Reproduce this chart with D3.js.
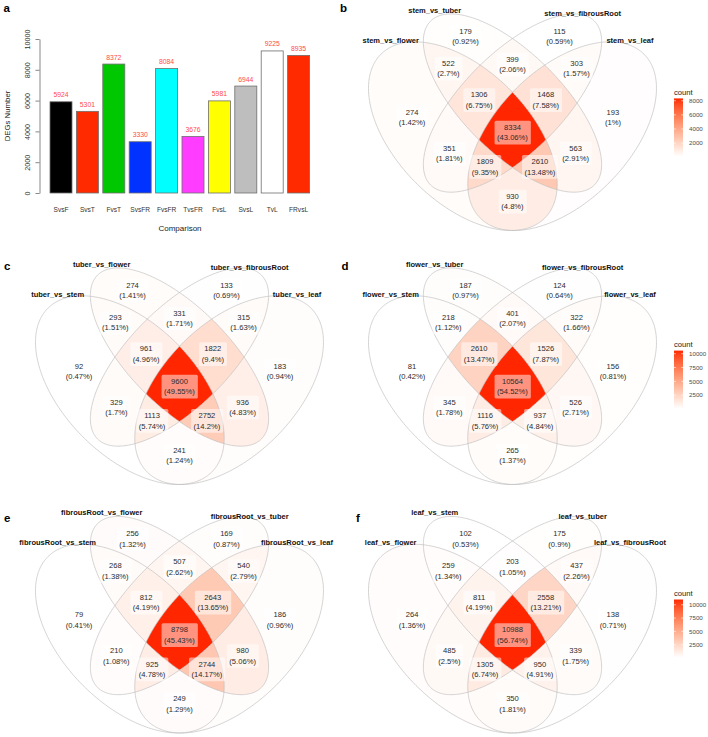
<!DOCTYPE html>
<html><head><meta charset="utf-8">
<script src="https://cdn.jsdelivr.net/npm/d3@7"></script>
<style>
body{margin:0;background:#fff}
text{font-family:"Liberation Sans",Arial,Helvetica,sans-serif}
</style>
</head><body>
<svg id="chart" width="708" height="737"></svg>
<script>
// ---------- DATA ----------
const categories = ["SvsF","SvsT","FvsT","SvsFR","FvsFR","TvsFR","FvsL","SvsL","TvL","FRvsL"];
const degValues  = [5924,5301,8372,3330,8084,3676,5981,6944,9225,8935];
const barColors  = ["#000000","#FF2A00","#00C800","#0033FF","#00FFFF","#FF3CFF","#FFFF00","#BEBEBE","#FFFFFF","#FF2A00"];
const yTicks     = [0,2000,4000,6000,8000,10000];

// region order: A, B, C, D, AB, BC, CD, AC, BD, AD, ABC, BCD, ACD, ABD, ABCD
const regionKeys = ["A","B","C","D","AB","BC","CD","AC","BD","AD","ABC","BCD","ACD","ABD","ABCD"];

const setsB   = ["stem_vs_flower","stem_vs_tuber","stem_vs_fibrousRoot","stem_vs_leaf"];
const countsB = [274,179,115,193,522,399,303,351,563,930,1306,1468,1809,2610,8334];
const setsC   = ["tuber_vs_stem","tuber_vs_flower","tuber_vs_fibrousRoot","tuber_vs_leaf"];
const countsC = [92,274,133,183,293,331,315,329,936,241,961,1822,1113,2752,9600];
const setsD   = ["flower_vs_stem","flower_vs_tuber","flower_vs_fibrousRoot","flower_vs_leaf"];
const countsD = [81,187,124,156,218,401,322,345,526,265,2610,1526,1116,937,10564];
const setsE   = ["fibrousRoot_vs_stem","fibrousRoot_vs_flower","fibrousRoot_vs_tuber","fibrousRoot_vs_leaf"];
const countsE = [79,256,169,186,268,507,540,210,980,249,812,2643,925,2744,8798];
const setsF   = ["leaf_vs_flower","leaf_vs_stem","leaf_vs_tuber","leaf_vs_fibrousRoot"];
const countsF = [264,102,175,138,259,203,437,485,339,350,811,2558,1305,950,10988];

const legendTicksB = [2000,4000,6000,8000];
const legendTicksD = [2500,5000,7500,10000];
const legendTicksF = [2500,5000,7500,10000];

// ---------- LAYOUT ----------
const svg = d3.select("#chart");
const FONT = '"Liberation Sans",Arial,Helvetica,sans-serif';

// panel letters
[["a",6.7,12],["b",343.5,12],["c",7.3,269.5],["d",345,269.5],["e",7.3,522],["f",358,522]].forEach(([t,x,y])=>{
  svg.append("text").attr("x",x).attr("y",y).attr("text-anchor","middle")
    .attr("font-size",11.5).attr("font-weight","bold").attr("fill","#000").text(t);
});

// ---------- BAR CHART (a) ----------
(function(){
  const x = d3.scaleBand().domain(categories).range([47.8,311.8]).paddingInner(4.4/26.4).paddingOuter(2.2/26.4);
  const y = d3.scaleLinear().domain([0,10000]).range([193,39]);
  const g = svg.append("g");
  g.selectAll("rect.bar").data(categories).join("rect")
    .attr("x",d=>x(d)).attr("width",x.bandwidth())
    .attr("y",(d,i)=>y(degValues[i])).attr("height",(d,i)=>y(0)-y(degValues[i]))
    .attr("fill",(d,i)=>barColors[i]).attr("stroke","#6e6e6e").attr("stroke-width",0.8);
  g.selectAll("text.val").data(categories).join("text")
    .attr("x",d=>x(d)+x.bandwidth()/2).attr("y",(d,i)=>y(degValues[i])-4.5)
    .attr("text-anchor","middle").attr("font-size",6.8).attr("fill","#FF4B4B")
    .text((d,i)=>degValues[i]);
  const ax = g.append("g").attr("transform","translate(39.5,0)")
    .call(d3.axisLeft(y).tickValues(yTicks).tickSize(4).tickSizeOuter(0).tickFormat(d3.format("d")));
  ax.select(".domain").attr("stroke","#555").attr("stroke-width",0.7);
  ax.selectAll(".tick line").attr("stroke","#555").attr("stroke-width",0.7);
  ax.selectAll(".tick text").attr("transform","rotate(-90)").attr("x",0).attr("y",-10).attr("dy",null)
    .attr("text-anchor","middle").attr("font-size",7.2).attr("fill","#333").attr("font-family",FONT);
  g.selectAll("text.xl").data(categories).join("text")
    .attr("x",d=>x(d)+x.bandwidth()/2).attr("y",211.5).attr("text-anchor","middle")
    .attr("font-size",6.6).attr("fill","#333").text(d=>d);
  g.append("text").attr("x",180).attr("y",231).attr("text-anchor","middle")
    .attr("font-size",8).attr("fill","#222").text("Comparison");
  g.append("text").attr("transform","translate(10,116) rotate(-90)").attr("text-anchor","middle")
    .attr("font-size",7.8).attr("fill","#222").text("DEGs Number");
})();

// ---------- VENN GEOMETRY (unit space, y up) ----------
const ellipses = [
  {cx:0.35, cy:0.47, a:0.35, b:0.20, ang:135},
  {cx:0.50, cy:0.57, a:0.35, b:0.15, ang:135},
  {cx:0.50, cy:0.57, a:0.35, b:0.15, ang:45},
  {cx:0.65, cy:0.47, a:0.35, b:0.20, ang:45}
];
const setLabelPos = [[0.132,0.760],[0.265,0.851],[0.712,0.840],[0.855,0.760]];
function inE(e,x,y){
  const t=e.ang*Math.PI/180, dx=x-e.cx, dy=y-e.cy;
  const s=dx*Math.cos(t)+dy*Math.sin(t), r=-dx*Math.sin(t)+dy*Math.cos(t);
  return s*s/(e.a*e.a)+r*r/(e.b*e.b)<=1;
}
function keyToMask(k){let m=0;for(const ch of k)m|=1<<("ABCD".indexOf(ch));return m;}
const centroids = {};
(function(){
  const acc={};
  const st=0.002;
  for(let x=0.06;x<=0.94;x+=st){
    for(let y=0.18;y<=0.845;y+=st){
      let m=0;
      ellipses.forEach((e,i)=>{if(inE(e,x,y))m|=1<<i;});
      if(!m)continue;
      if(!acc[m])acc[m]={sx:0,sy:0,n:0};
      acc[m].sx+=x;acc[m].sy+=y;acc[m].n++;
    }
  }
  for(const m in acc)centroids[m]=[acc[m].sx/acc[m].n,acc[m].sy/acc[m].n];
})();

function ellipsePoints(e){
  const t=e.ang*Math.PI/180, pts=[];
  for(let k=0;k<360;k++){
    const u=k/360*2*Math.PI;
    pts.push([e.cx+e.a*Math.cos(u)*Math.cos(t)-e.b*Math.sin(u)*Math.sin(t),
              e.cy+e.a*Math.cos(u)*Math.sin(t)+e.b*Math.sin(u)*Math.cos(t)]);
  }
  return pts;
}

const HIGH = "#FF2600", LOW = "#FFFFFF";
const defs = svg.append("defs");

function drawVenn(pid, left, top, sets, counts, legendTicks, legendTop){
  const S = 331;
  const x = d3.scaleLinear().domain([0.065,0.935]).range([left,left+0.87*S]);
  const y = d3.scaleLinear().domain([0.839,0.185]).range([top,top+0.654*S]);
  const line = d3.line().x(d=>x(d[0])).y(d=>y(d[1])).curve(d3.curveLinearClosed);
  const paths = ellipses.map(e=>line(ellipsePoints(e)));
  const minC=d3.min(counts), maxC=d3.max(counts);
  const color = d3.scaleLinear().domain([minC,maxC]).range([LOW,HIGH]).interpolate(d3.interpolateLab);
  const bx=left-5, by=top-5, bw=0.87*S+10, bh=0.654*S+10;
  paths.forEach((p,i)=>{
    defs.append("clipPath").attr("id",`${pid}c${i}`).append("path").attr("d",p);
  });
  const g = svg.append("g");
  regionKeys.forEach((k,ri)=>{
    const m = keyToMask(k);
    let c = g;
    for(let i=0;i<4;i++) if(m&(1<<i)) c = c.append("g").attr("clip-path",`url(#${pid}c${i})`);
    const rect = c.append("rect").attr("x",bx).attr("y",by).attr("width",bw).attr("height",bh)
      .attr("fill",color(counts[ri]));
    if(m!==15){
      const mk = defs.append("mask").attr("id",`${pid}m${m}`).attr("maskUnits","userSpaceOnUse")
        .attr("x",bx).attr("y",by).attr("width",bw).attr("height",bh);
      mk.append("rect").attr("x",bx).attr("y",by).attr("width",bw).attr("height",bh).attr("fill","#fff");
      for(let i=0;i<4;i++) if(!(m&(1<<i))) mk.append("path").attr("d",paths[i]).attr("fill","#000");
      rect.attr("mask",`url(#${pid}m${m})`);
    }
  });
  g.selectAll("path.edge").data(paths).join("path").attr("class","edge")
    .attr("d",d=>d).attr("fill","none").attr("stroke","#BDBDBD").attr("stroke-width",0.65);
  sets.forEach((s,i)=>{
    g.append("text").attr("x",x(setLabelPos[i][0])).attr("y",y(setLabelPos[i][1])).attr("dy","0.35em")
      .attr("text-anchor","middle").attr("font-size",7.5).attr("font-weight","bold").attr("fill","#111").text(s);
  });
  const total = d3.sum(counts);
  regionKeys.forEach((k,ri)=>{
    const m=keyToMask(k), c=centroids[m];
    const cx=x(c[0]), cy=y(c[1]);
    const pct = +(counts[ri]/total*100).toFixed(2);
    const lg = g.append("g");
    const txt = lg.append("text").attr("text-anchor","middle").attr("font-size",7.6).attr("fill","#2b2b2b");
    txt.append("tspan").attr("x",cx).attr("y",cy-5.3).attr("dy","0.35em").text(counts[ri]);
    txt.append("tspan").attr("x",cx).attr("y",cy+5.3).attr("dy","0.35em").text(`(${pct}%)`);
    const bb = txt.node().getBBox();
    lg.insert("rect","text").attr("x",bb.x-2.5).attr("y",bb.y-2).attr("width",bb.width+5).attr("height",bb.height+4)
      .attr("rx",1.5).attr("fill","#fff").attr("fill-opacity",0.5);
  });
  if(legendTicks){
    const lx=674, lw=9, lh=58;
    const ls = d3.scaleLinear().domain([minC,maxC]).range([legendTop+lh,legendTop]);
    const grad = defs.append("linearGradient").attr("id",`${pid}grad`).attr("x1",0).attr("x2",0).attr("y1",1).attr("y2",0);
    d3.range(0,1.0001,0.05).forEach(t=>{
      grad.append("stop").attr("offset",t).attr("stop-color",color(minC+t*(maxC-minC)));
    });
    g.append("rect").attr("x",lx).attr("y",legendTop).attr("width",lw).attr("height",lh).attr("fill",`url(#${pid}grad)`);
    legendTicks.forEach(v=>{
      g.append("line").attr("x1",lx).attr("x2",lx+1.8).attr("y1",ls(v)).attr("y2",ls(v)).attr("stroke","#fff").attr("stroke-width",0.6);
      g.append("line").attr("x1",lx+lw-1.8).attr("x2",lx+lw).attr("y1",ls(v)).attr("y2",ls(v)).attr("stroke","#fff").attr("stroke-width",0.6);
      g.append("text").attr("x",lx+15).attr("y",ls(v)).attr("dy","0.35em").attr("font-size",6.2).attr("fill","#4D4D4D").text(v);
    });
    g.append("text").attr("x",lx).attr("y",legendTop-3.5).attr("font-size",7.6).attr("fill","#222").text("count");
  }
}

drawVenn("pb",368.5,14,  setsB,countsB,legendTicksB,98.4);
drawVenn("pc",35.5,268,  setsC,countsC,null,0);
drawVenn("pd",368.5,268, setsD,countsD,legendTicksD,350.6);
drawVenn("pe",35.5,516.5,setsE,countsE,null,0);
drawVenn("pf",368.5,516.5,setsF,countsF,legendTicksF,599.5);
</script>
</body></html>
